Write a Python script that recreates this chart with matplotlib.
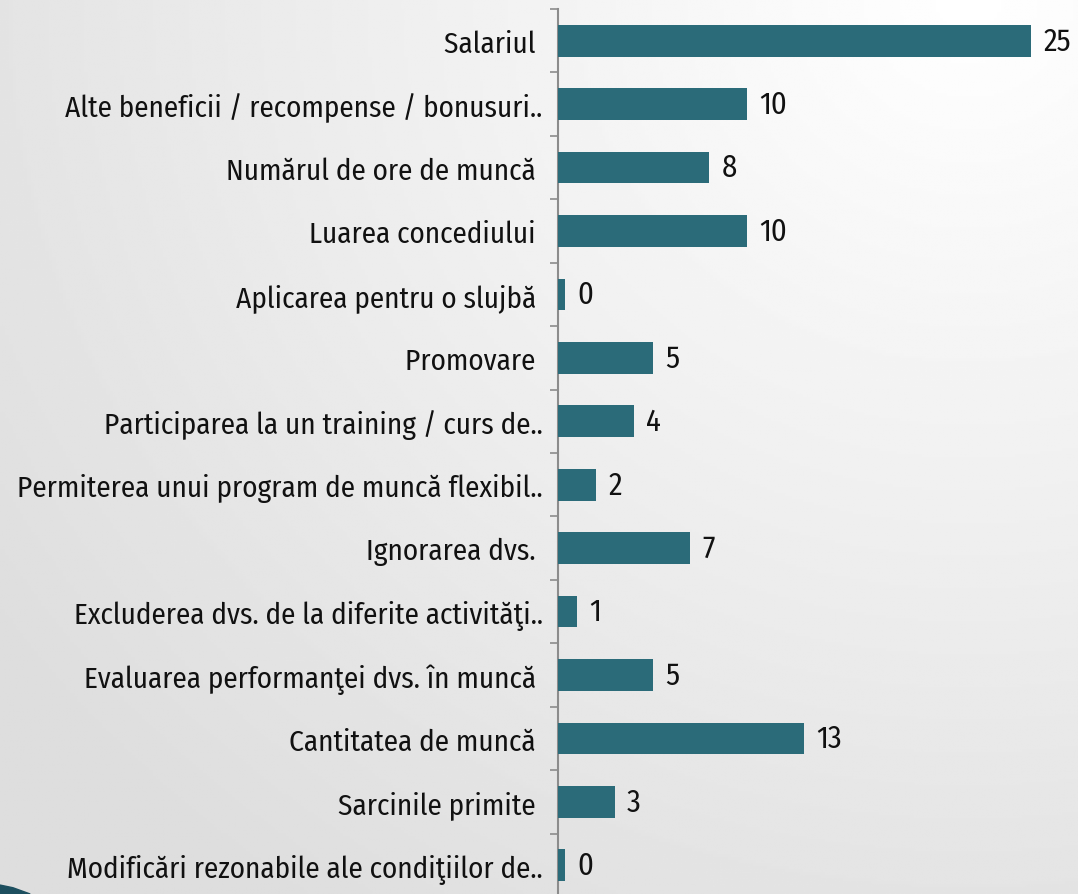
import matplotlib.pyplot as plt
import numpy as np
from matplotlib.patches import Polygon

# Date din grafic (de sus in jos)
categorii = [
    "Salariul ",
    "Alte beneficii / recompense / bonusuri..",
    "Numărul de ore de muncă ",
    "Luarea concediului ",
    "Aplicarea pentru o slujbă ",
    "Promovare ",
    "Participarea la un training / curs de..",
    "Permiterea unui program de muncă flexibil..",
    "Ignorarea dvs. ",
    "Excluderea dvs. de la diferite activităţi..",
    "Evaluarea performanţei dvs. în muncă ",
    "Cantitatea de muncă ",
    "Sarcinile primite ",
    "Modificări rezonabile ale condiţiilor de..",
]
valori = [25, 10, 8, 10, 0, 5, 4, 2, 7, 1, 5, 13, 3, 0]

culoare_bara = "#2b6b79"
font = ["Fira Sans Condensed", "DejaVu Sans"]
marime = 21

fig = plt.figure(figsize=(10.78, 8.95), dpi=100)

# fundal cu gradient gri -> alb
bg = fig.add_axes([0, 0, 1, 1], zorder=-10)
yy, xx = np.mgrid[0:1:300j, 0:1:300j]
dist = np.sqrt((xx - 0.9) ** 2 + ((yy - 0.0) * 0.9) ** 2)
img = 1.0 - 0.13 * np.clip(dist / 1.1, 0, 1)
bg.imshow(img, cmap="gray", vmin=0, vmax=1, aspect="auto",
          extent=[0, 1, 0, 1], origin="upper")
bg.set_xlim(0, 1)
bg.set_ylim(0, 1)
bg.axis("off")

# decor colt stanga jos
bg.add_patch(Polygon([[0, 0.010], [0.012, 0.007], [0.028, 0.0], [0, 0.0]],
                     closed=True, color="#1d4f5f"))

ax = fig.add_axes([558 / 1078, -3 / 895, 1 - 558 / 1078, 888 / 895])
ax.patch.set_alpha(0)

y = np.arange(len(categorii))
latimi = np.maximum(valori, 0.35)  # valorile 0 apar ca un mic segment
ax.barh(y, latimi, height=0.5, color=culoare_bara, zorder=3)

for yi, v, w in zip(y, valori, latimi):
    ax.annotate(str(v), (w, yi), xytext=(9, 0), textcoords="offset points",
                va="center", ha="left", fontsize=marime + 1, family=font,
                fontweight="normal", color="#111111")

ax.set_xlim(0, 27.5)
ax.set_ylim(len(categorii) - 0.5, -0.5)
ax.set_xticks([0, 5, 10, 15, 20, 25])
ax.xaxis.set_visible(False)
ax.grid(axis="x", color="#9a9a9a", linewidth=1.5, zorder=1)

ax.set_yticks(y)
ax.set_yticklabels(categorii, fontsize=marime, family=font,
                   fontweight="normal", color="#111111")
ax.tick_params(axis="y", which="major", length=0, pad=11)
ax.set_yticks(np.arange(-0.5, len(categorii), 1), minor=True)
ax.tick_params(axis="y", which="minor", length=6, width=1.2, color="#8c8c8c")

for s in ["top", "right", "bottom"]:
    ax.spines[s].set_visible(False)
ax.spines["left"].set_color("#8c8c8c")
ax.spines["left"].set_linewidth(1.5)

fig.savefig("out.png", dpi=100)
